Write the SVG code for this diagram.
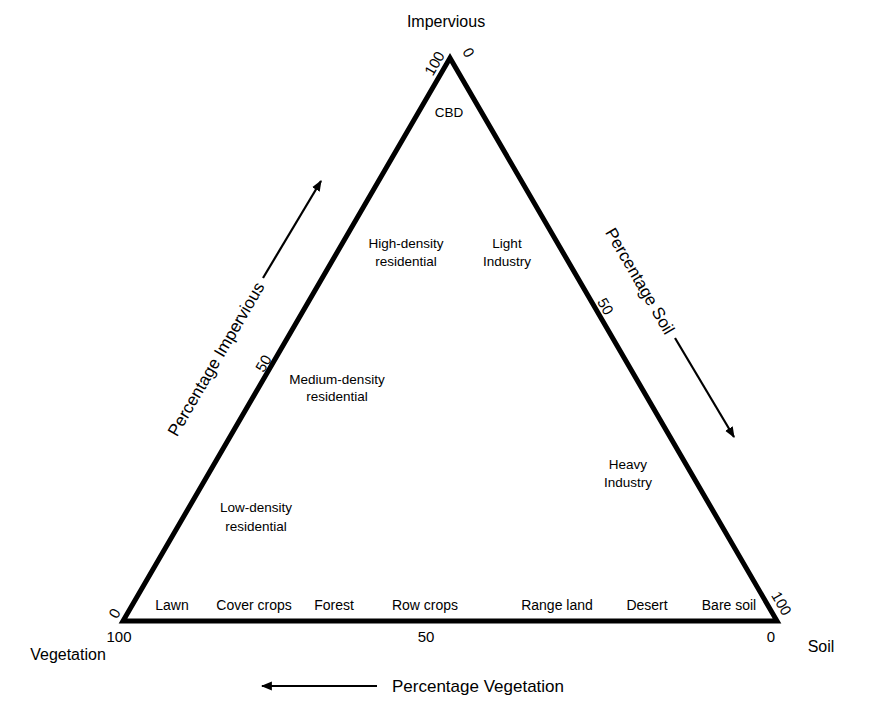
<svg xmlns="http://www.w3.org/2000/svg" width="895" height="711" viewBox="0 0 895 711">
<style>
text{font-family:"Liberation Sans",Arial,sans-serif;fill:#000}
.ax{font-size:16px}
.tk{font-size:15px}
.lb{font-size:13.5px;text-anchor:middle}
.bl{font-size:14px;text-anchor:middle}
.pc{font-size:17px;text-anchor:middle}
.arr{stroke:#000;stroke-width:2.2;fill:none}
</style>
<defs>
<marker id="ah" viewBox="0 0 10 10" refX="9" refY="5" markerWidth="5" markerHeight="5" orient="auto" markerUnits="strokeWidth">
<path d="M0,1 L10,5 L0,9 z" fill="#000"/>
</marker>
</defs>
<rect width="895" height="711" fill="#fff"/>
<g id="triangle">
<polygon points="450,58 123,621 777,621" fill="none" stroke="#000" stroke-width="5" stroke-linejoin="miter"/>
</g>
<g id="connectors">
<line class="arr" x1="263" y1="278" x2="321" y2="181" marker-end="url(#ah)"/>
<line class="arr" x1="675" y1="338" x2="734" y2="437" marker-end="url(#ah)"/>
<line class="arr" x1="377" y1="686" x2="262" y2="686" marker-end="url(#ah)"/>
</g>
<g id="axis-labels">
<text class="ax" x="446" y="27" text-anchor="middle">Impervious</text>
<text class="ax" x="68" y="660" text-anchor="middle">Vegetation</text>
<text class="ax" x="821" y="652" text-anchor="middle">Soil</text>
<text class="pc" transform="translate(221,362) rotate(-59.8)">Percentage Impervious</text>
<text class="pc" transform="translate(635,284) rotate(59.8)">Percentage Soil</text>
<text class="pc" x="478" y="692">Percentage Vegetation</text>
</g>
<g id="ticks">
<text class="tk" text-anchor="middle" transform="translate(439,66) rotate(-59.8)">100</text>
<text class="tk" text-anchor="middle" transform="translate(464,55) rotate(59.8)">0</text>
<text class="tk" text-anchor="middle" transform="translate(268,366) rotate(-59.8)">50</text>
<text class="tk" text-anchor="middle" transform="translate(119,616) rotate(-59.8)">0</text>
<text class="tk" text-anchor="middle" transform="translate(777,606) rotate(59.8)">100</text>
<text class="tk" text-anchor="middle" transform="translate(601,309) rotate(59.8)">50</text>
<text class="tk" x="119" y="642" text-anchor="middle">100</text>
<text class="tk" x="426" y="642" text-anchor="middle">50</text>
<text class="tk" x="771" y="642" text-anchor="middle">0</text>
</g>
<g id="cbd"><text class="lb" x="449" y="117">CBD</text></g>
<g id="high-density"><text class="lb" x="406" y="248">High-density</text><text class="lb" x="406" y="266">residential</text></g>
<g id="light-industry"><text class="lb" x="507" y="248">Light</text><text class="lb" x="507" y="266">Industry</text></g>
<g id="medium-density"><text class="lb" x="337" y="384">Medium-density</text><text class="lb" x="337" y="401">residential</text></g>
<g id="heavy-industry"><text class="lb" x="628" y="469">Heavy</text><text class="lb" x="628" y="487">Industry</text></g>
<g id="low-density"><text class="lb" x="256" y="512">Low-density</text><text class="lb" x="256" y="531">residential</text></g>
<g id="lawn"><text class="bl" x="172" y="610">Lawn</text></g>
<g id="cover-crops"><text class="bl" x="254" y="610">Cover crops</text></g>
<g id="forest"><text class="bl" x="334" y="610">Forest</text></g>
<g id="row-crops"><text class="bl" x="425" y="610">Row crops</text></g>
<g id="range-land"><text class="bl" x="557" y="610">Range land</text></g>
<g id="desert"><text class="bl" x="647" y="610">Desert</text></g>
<g id="bare-soil"><text class="bl" x="729" y="610">Bare soil</text></g>
</svg>
